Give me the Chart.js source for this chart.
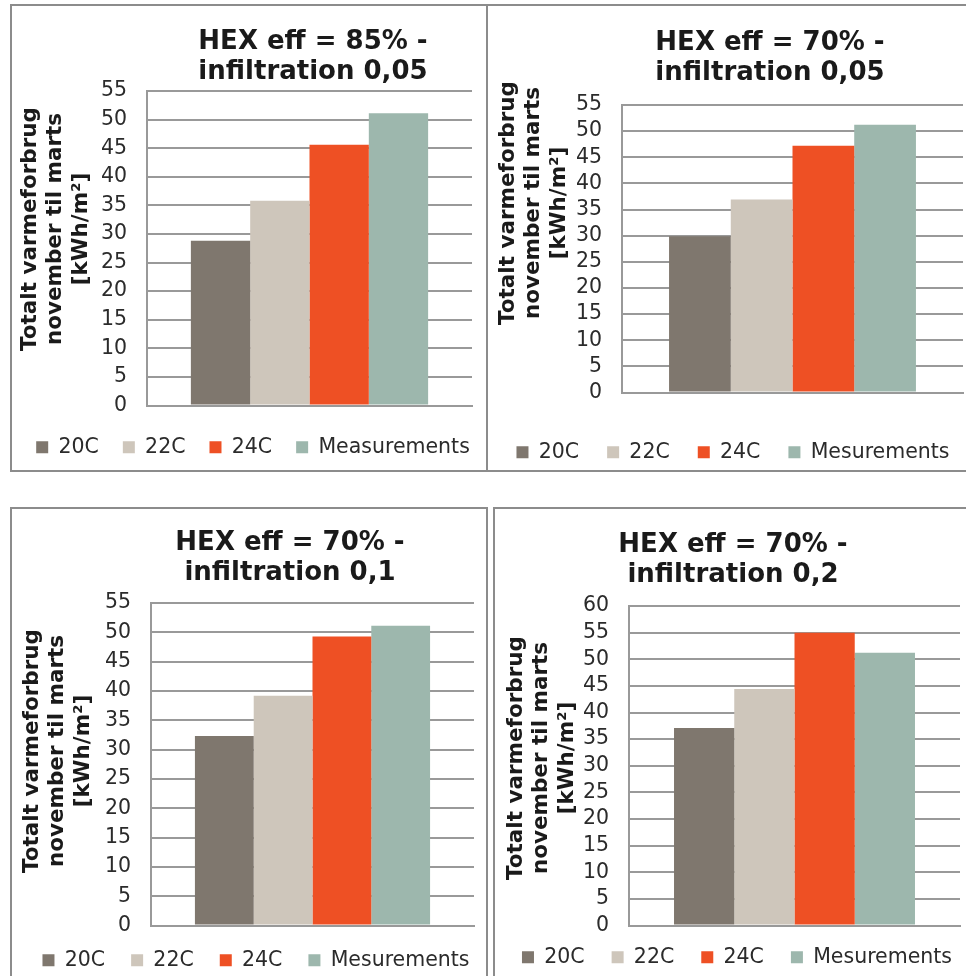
<!DOCTYPE html>
<html lang="da">
<head>
<meta charset="UTF-8">
<title>Totalt varmeforbrug november til marts</title>
<script src="https://cdn.jsdelivr.net/npm/chart.js"></script>
<style>
  html, body { margin: 0; padding: 0; background: #fff; width: 966px; height: 976px; overflow: hidden; }
  .panel { position: absolute; box-sizing: border-box; border: 2px solid #8c8c8c; }
  canvas { position: absolute; top: 0; left: -100px; }
</style>
</head>
<body>
<div class="panel" style="left:10px;top:4px;width:478px;height:468px"></div>
<div class="panel" style="left:486px;top:4px;width:500px;height:468px"></div>
<div class="panel" style="left:10px;top:507px;width:478px;height:500px"></div>
<div class="panel" style="left:493px;top:507px;width:500px;height:500px"></div>

<canvas id="c0" width="1166" height="976"></canvas>
<canvas id="c1" width="1166" height="976"></canvas>
<canvas id="c2" width="1166" height="976"></canvas>
<canvas id="c3" width="1166" height="976"></canvas>

<script>
// data
const categories = [''];
const titles = [
  ['HEX eff = 85% -', 'infiltration 0,05'],
  ['HEX eff = 70% -', 'infiltration 0,05'],
  ['HEX eff = 70% -', 'infiltration 0,1'],
  ['HEX eff = 70% -', 'infiltration 0,2']
];
const seriesNames = [
  ['20C', '22C', '24C', 'Measurements'],
  ['20C', '22C', '24C', 'Mesurements'],
  ['20C', '22C', '24C', 'Mesurements'],
  ['20C', '22C', '24C', 'Mesurements']
];
const val20C = [28.8, 29.9, 32.3, 37.1];
const val22C = [35.8, 36.9, 39.2, 44.4];
const val24C = [45.6, 47.2, 49.3, 55.0];
const valMeas = [51.1, 51.2, 51.1, 51.2];
const yMax = [55, 55, 55, 60];
const yStep = 5;
const yTitle = ['Totalt varmeforbrug', 'november til marts', '[kWh/m\u00b2]'];

const colors = ['#7f776e', '#cec6bb', '#ee5024', '#9db7ad'];

// where each panel sits on the page (px)
const frames = [
  { plotL: 147, plotR: 472, plotT: 91,  plotB: 406, titleY: 42,  titleX: 313, legY: 447, legX: 253, legPad: 24, axX: 30,  axY: 229, cat: 0.73 },
  { plotL: 622, plotR: 963, plotT: 105, plotB: 393, titleY: 43,  titleX: 770, legY: 452, legX: 733, legPad: 28, axX: 508, axY: 203, cat: 0.724 },
  { plotL: 151, plotR: 474, plotT: 603, plotB: 926, titleY: 543, titleX: 290, legY: 960, legX: 256, legPad: 26, axX: 32,  axY: 751, cat: 0.728 },
  { plotL: 629, plotR: 960, plotT: 606, plotB: 926, titleY: 545, titleX: 733, legY: 957, legX: 737, legPad: 27, axX: 516, axY: 758, cat: 0.728 }
];
const OX = 100; // canvas is shifted left by this much

Chart.defaults.font.family = '"DejaVu Sans", Verdana, sans-serif';

// move title and legend to their places after layout
const nudge = {
  id: 'nudge',
  afterLayout(chart, args, o) {
    const t = chart.titleBlock;
    const dx = o.titleX - (t.left + t.right) / 2;
    t.left += dx; t.right += dx;
    const lg = chart.legend;
    const lx = o.legX - (lg.left + lg.right) / 2;
    lg.left += lx; lg.right += lx;
    const ly = o.legY - o.legPad - 10 - lg.top;
    lg.top += ly; lg.bottom += ly;
  }
};

// rotated three-line y axis title
const axisTitle = {
  id: 'axisTitle',
  afterDraw(chart, args, o) {
    const ctx = chart.ctx;
    ctx.save();
    ctx.translate(o.x, o.y);
    ctx.rotate(-Math.PI / 2);
    ctx.font = 'bold 21.5px "DejaVu Sans"';
    ctx.fillStyle = '#1a1a1a';
    ctx.textAlign = 'center';
    ctx.textBaseline = 'middle';
    o.lines.forEach((s, k) => ctx.fillText(s, 0, k * o.lh));
    ctx.restore();
  }
};

function makeChart(i) {
  const f = frames[i];
  const legendH = 20 + f.legPad + 10;
  const padL = f.plotL + OX - 230;
  const padR = 966 + OX - f.plotR;
  const padT = f.titleY - 20;
  const padB = 976 - f.plotB - legendH;
  const vals = [val20C[i], val22C[i], val24C[i], valMeas[i]];

  new Chart(document.getElementById('c' + i), {
    type: 'bar',
    data: {
      labels: categories,
      datasets: seriesNames[i].map((name, k) => ({
        label: name,
        data: [vals[k]],
        backgroundColor: colors[k],
        borderWidth: 0,
        barPercentage: 1,
        categoryPercentage: f.cat
      }))
    },
    options: {
      responsive: false,
      animation: false,
      events: [],
      layout: { padding: { left: padL, right: padR, top: padT, bottom: padB } },
      scales: {
        x: {
          grid: { display: false, drawTicks: false },
          ticks: { display: false },
          border: { display: true, color: '#999999', width: 2, z: 1 }
        },
        y: {
          min: 0,
          max: yMax[i],
          ticks: { stepSize: yStep, autoSkip: false, padding: 20, color: '#2b2b2b', font: { size: 20.5 } },
          grid: { color: '#999999', lineWidth: 2, drawTicks: false },
          border: { display: true, color: '#999999', width: 2 },
          afterFit(s) { s.width = 230; }
        }
      },
      plugins: {
        title: {
          display: true,
          text: titles[i],
          color: '#1a1a1a',
          font: { size: 26, weight: 'bold', lineHeight: '30px' },
          padding: { top: 5, bottom: f.plotT - f.titleY - 45 }
        },
        legend: {
          position: 'bottom',
          labels: { boxWidth: 12, boxHeight: 12, padding: f.legPad, color: '#2b2b2b', font: { size: 20.5 } }
        },
        tooltip: { enabled: false },
        nudge: { titleX: f.titleX + OX, legX: f.legX + OX, legY: f.legY, legPad: f.legPad },
        axisTitle: { x: f.axX + OX, y: f.axY, lh: 25.5, lines: yTitle }
      }
    },
    plugins: [nudge, axisTitle]
  });
}

for (let i = 0; i < 4; i++) makeChart(i);
</script>
</body>
</html>
